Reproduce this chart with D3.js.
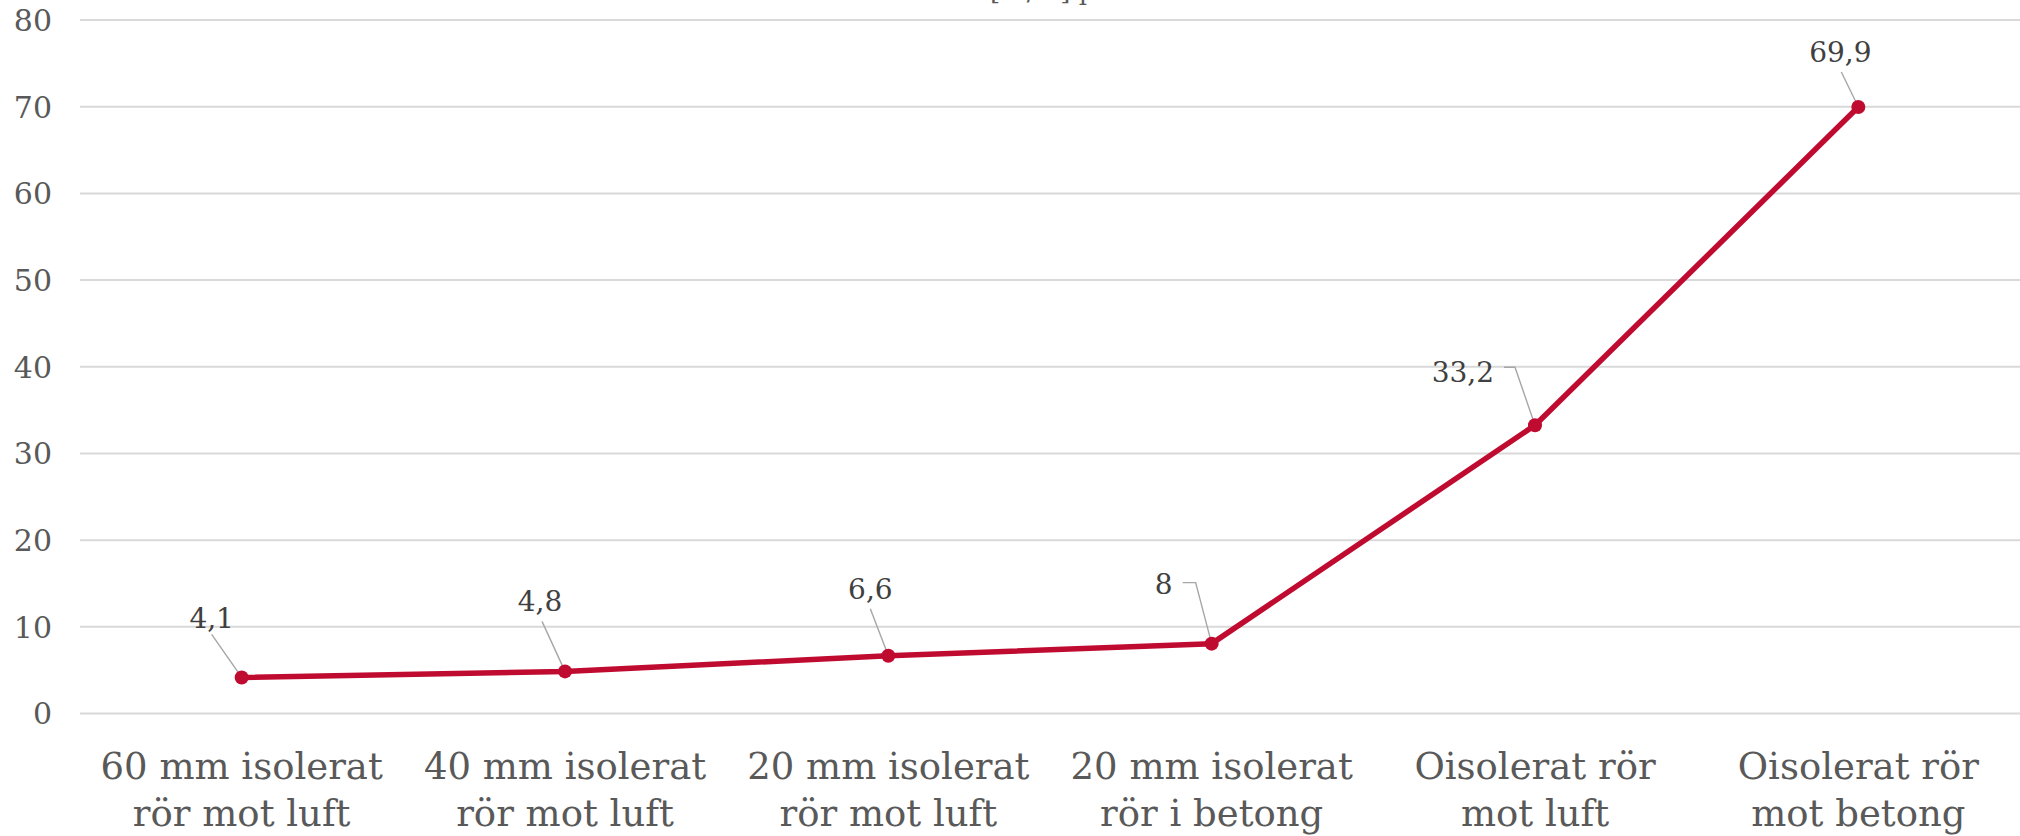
<!DOCTYPE html>
<html>
<head>
<meta charset="utf-8">
<script src="https://cdn.jsdelivr.net/npm/d3@7"></script>
<style>
  html, body { margin: 0; padding: 0; background: #ffffff; }
  svg { display: block; }
</style>
</head>
<body>
<svg id="chart" width="2020" height="836"></svg>
<script>
// ---- data ----
const categories = [
  ["60 mm isolerat", "rör mot luft"],
  ["40 mm isolerat", "rör mot luft"],
  ["20 mm isolerat", "rör mot luft"],
  ["20 mm isolerat", "rör i betong"],
  ["Oisolerat rör", "mot luft"],
  ["Oisolerat rör", "mot betong"]
];
const values = [4.1, 4.8, 6.6, 8, 33.2, 69.9];
const valueLabels = ["4,1", "4,8", "6,6", "8", "33,2", "69,9"];
const yTicks = [0, 10, 20, 30, 40, 50, 60, 70, 80];
const titleText = "Värmeförlust [W/m] per meter";

// ---- layout (label offsets relative to their point) ----
const labelLayout = [
  { dx: -30, dy: -49, anchor: "middle", lead: [[-30, -43]] },
  { dx: -25, dy: -60, anchor: "middle", lead: [[-23, -50]] },
  { dx: -18, dy: -57, anchor: "middle", lead: [[-18, -47]] },
  { dx: -39, dy: -50, anchor: "end",    lead: [[-29, -61], [-16, -61]] },
  { dx: -41, dy: -43, anchor: "end",    lead: [[-31, -58], [-20, -58]] },
  { dx: -18, dy: -45, anchor: "middle", lead: [[-17, -35]] }
];

const W = 2020, H = 836;
const plot = { left: 80, right: 2020, top: 19.5, bottom: 713 };
const font = "'DejaVu Serif', Georgia, serif";
const lineColor = "#c00b31";

const svg = d3.select("#chart");

const x = d3.scaleBand()
  .domain(d3.range(categories.length))
  .range([plot.left, plot.right])
  .padding(0);
const y = d3.scaleLinear()
  .domain([0, 80])
  .range([plot.bottom, plot.top]);

const cx = i => x(i) + x.bandwidth() / 2;

// gridlines + y labels via axis
const yAxis = d3.axisLeft(y)
  .tickValues(yTicks)
  .tickSize(-(plot.right - plot.left))
  .tickPadding(28)
  .tickFormat(d3.format("d"));
const gy = svg.append("g")
  .attr("transform", `translate(${plot.left},0)`)
  .call(yAxis);
gy.select(".domain").remove();
gy.selectAll(".tick line")
  .attr("stroke", "#d9d9d9")
  .attr("stroke-width", 2);
gy.selectAll(".tick text")
  .attr("fill", "#595959")
  .attr("font-family", font)
  .attr("font-size", 30)
  .attr("dy", "0.36em");

// x category labels via axis
const xAxis = d3.axisBottom(x).tickSize(0).tickFormat(() => "");
const gx = svg.append("g")
  .attr("transform", `translate(0,${plot.bottom})`)
  .call(xAxis);
gx.select(".domain").remove();
gx.selectAll(".tick text").remove();
gx.selectAll(".tick").each(function(d, i) {
  const t = d3.select(this).append("text")
    .attr("text-anchor", "middle")
    .attr("fill", "#595959")
    .attr("font-family", font)
    .attr("font-size", 37);
  categories[i].forEach((line, k) => {
    t.append("tspan")
      .attr("x", 0)
      .attr("y", 66 + k * 47)
      .text(line);
  });
});

// line
const line = d3.line()
  .x((d, i) => cx(i))
  .y(d => y(d));
svg.append("path")
  .datum(values)
  .attr("fill", "none")
  .attr("stroke", lineColor)
  .attr("stroke-width", 5.5)
  .attr("stroke-linejoin", "round")
  .attr("d", line);

// leader lines
values.forEach((v, i) => {
  const px = cx(i), py = y(v);
  const pts = labelLayout[i].lead.map(([a, b]) => [px + a, py + b]);
  pts.push([px, py]);
  svg.append("path")
    .attr("d", d3.line()(pts))
    .attr("fill", "none")
    .attr("stroke", "#a6a6a6")
    .attr("stroke-width", 1.4);
});

// markers
svg.append("g").selectAll("circle")
  .data(values)
  .join("circle")
  .attr("cx", (d, i) => cx(i))
  .attr("cy", d => y(d))
  .attr("r", 7)
  .attr("fill", lineColor);

// data labels
svg.append("g").selectAll("text")
  .data(values)
  .join("text")
  .attr("x", (d, i) => cx(i) + labelLayout[i].dx)
  .attr("y", (d, i) => y(d) + labelLayout[i].dy)
  .attr("text-anchor", (d, i) => labelLayout[i].anchor)
  .attr("fill", "#404040")
  .attr("font-family", font)
  .attr("font-size", 28)
  .text((d, i) => valueLabels[i]);

// title (clipped at the top edge, as in the reference)
const title = svg.append("text")
  .attr("x", 0)
  .attr("y", 0)
  .attr("fill", "#595959")
  .attr("font-family", font)
  .attr("font-size", 26)
  .text(titleText);
const bi = titleText.indexOf("[");
const off = title.node().getSubStringLength(0, bi);
title.attr("x", 990 - off);
</script>
</body>
</html>
